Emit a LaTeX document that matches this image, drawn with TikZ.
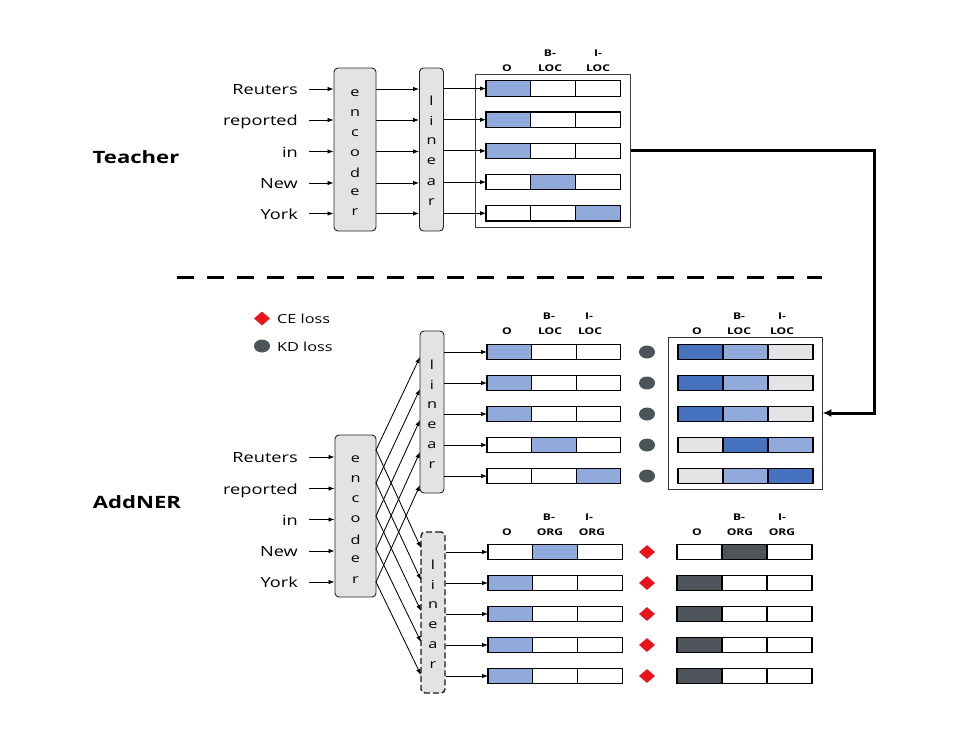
\documentclass[tikz,border=0pt]{standalone}
\usepackage{fontspec}
\setmainfont{Open Sans}[FakeStretch=1.3]
\usetikzlibrary{arrows.meta,shapes.geometric,patterns}
\definecolor{lblue}{RGB}{143,170,219}
\definecolor{dblue}{RGB}{70,114,192}
\definecolor{lgray}{RGB}{227,228,229}
\definecolor{dgray}{RGB}{78,84,90}
\definecolor{kdgray}{RGB}{74,84,89}
\definecolor{cered}{RGB}{232,20,26}
\definecolor{encfill}{RGB}{226,227,228}
\tikzset{
  word/.style={anchor=east,inner sep=0pt,font=\fontsize{14}{16}\selectfont},
  lbl/.style={anchor=center,inner sep=0pt,font=\fontsize{17}{20}\selectfont\bfseries},
  hdr/.style={inner sep=0pt,font=\fontsize{9.3}{10}\selectfont\bfseries},
  letter/.style={inner sep=0pt,font=\fontsize{12.5}{14}\selectfont},
  legtext/.style={anchor=west,inner sep=0pt,font=\fontsize{12.5}{14}\selectfont},
  encbox/.style={draw=black!85,fill=encfill,rounded corners=4pt,line width=0.9pt},
  cellbox/.style={draw=black,line width=1.2pt,minimum height=15.5pt,inner sep=0pt,outer sep=0pt,anchor=west},
  arr/.style={-{Latex[length=6pt,width=4.5pt]},line width=0.85pt},
  kd/.style={ellipse,fill=kdgray,minimum width=16pt,minimum height=13pt,inner sep=0pt},
  ce/.style={diamond,fill=cered,minimum width=16pt,minimum height=14pt,inner sep=0pt,aspect=1.2},
}
% \cellrow{prefix}{x0}{y}{w}{c1}{c2}{c3}
\newcommand{\cellrow}[7]{%
  \node[cellbox,minimum width=#4pt,fill=#5] (#1a) at (#2,#3) {};
  \node[cellbox,minimum width=#4pt,fill=#6] (#1b) at (#1a.east) {};
  \node[cellbox,minimum width=#4pt,fill=#7] (#1c) at (#1b.east) {};
}
\begin{document}
\begin{tikzpicture}[x=1pt,y=-1pt]
\useasboundingbox (0,0) rectangle (956,734);
\fill[white] (0,0) rectangle (956,734);

% ---------------- Teacher ----------------
\node[lbl] (teacher) at (136,157) {Teacher};

\node[encbox,minimum width=42pt,minimum height=163pt] (tenc) at (355,149.5) {};
\foreach \l [count=\i] in {e,n,c,o,d,e,r}
  \node[letter] (tencl\i) at (355,{93+19.9*(\i-1)}) {\l};
\node[encbox,minimum width=24pt,minimum height=163pt] (tlin) at (431.5,149.5) {};
\foreach \l [count=\i] in {l,i,n,e,a,r}
  \node[letter] (tlinl\i) at (431.5,{101+20.2*(\i-1)}) {\l};

\node[draw=black!75,line width=0.9pt,minimum width=155pt,minimum height=153pt,inner sep=0pt] (tbox) at (553,150.5) {};

\node[hdr] (th1) at (507,68.5) {O};
\node[hdr] (th2a) at (550,53.5) {B-};
\node[hdr] (th2b) at (550,68.5) {LOC};
\node[hdr] (th3a) at (598,53.5) {I-};
\node[hdr] (th3b) at (598,68.5) {LOC};

\cellrow{tr1}{486}{88.5}{44.7}{lblue}{white}{white}
\cellrow{tr2}{486}{119.7}{44.7}{lblue}{white}{white}
\cellrow{tr3}{486}{150.9}{44.7}{lblue}{white}{white}
\cellrow{tr4}{486}{182.1}{44.7}{white}{lblue}{white}
\cellrow{tr5}{486}{213.3}{44.7}{white}{white}{lblue}

\foreach \w/\y [count=\i] in {Reuters/89,reported/120,in/151.5,New/183,York/213.5}{
  \node[word,anchor=base east] (tw\i) at (298,\y+5.5) {\w};
  \coordinate (twa\i) at (309,\y);
  \draw[arr] (twa\i) -- (twa\i -| tenc.west);
  \draw[arr] (twa\i -| tenc.east) -- (twa\i -| tlin.west);
}
\foreach \i in {1,...,5}
  \draw[arr] (tr\i a.west -| tlin.east) -- (tr\i a.west);

% dashed separator
\coordinate (dashL) at (177,277);
\coordinate (dashR) at (822,277);
\draw[line width=3pt,dash pattern=on 17pt off 13pt] (dashL) -- (dashR);

% ---------------- AddNER ----------------
\node[lbl] (addner) at (137,502) {AddNER};

\node[ce] (legce) at (262,318.5) {};
\node[legtext] (legcet) at (277,319) {CE loss};
\node[kd] (legkd) at (262,346) {};
\node[legtext] (legkdt) at (277,346.5) {KD loss};

\node[encbox,minimum width=41pt,minimum height=162pt] (senc) at (355.5,516) {};
\foreach \l [count=\i] in {e,n,c,o,d,e,r}
  \node[letter] (sencl\i) at (355.5,{459+20.1*(\i-1)}) {\l};

\node[encbox,minimum width=24pt,minimum height=162pt] (slin) at (432,412) {};
\foreach \l [count=\i] in {l,i,n,e,a,r}
  \node[letter] (slinl\i) at (432,{365+20*(\i-1)}) {\l};

\node[encbox,dashed,dash pattern=on 6pt off 3pt,line width=1.4pt,draw=black!90,minimum width=24pt,minimum height=161pt] (dlin) at (433,612.5) {};
\foreach \l [count=\i] in {l,i,n,e,a,r}
  \node[letter] (dlinl\i) at (433,{565+20*(\i-1)}) {\l};

% words
\foreach \w/\y [count=\i] in {Reuters/457,reported/488.5,in/519.5,New/551,York/582}{
  \node[word,anchor=base east] (sw\i) at (298,\y+5.5) {\w};
  \coordinate (swa\i) at (309,\y);
  \draw[arr] (swa\i) -- (swa\i -| senc.west);
}

% crossing arrows
\foreach \s/\u/\d [count=\i] in {450/357/548,483/389/580,516/420/611,549/452/642,582/485/675}{
  \coordinate (src\i) at (376,\s);
  \coordinate (up\i) at (420,\u);
  \coordinate (dn\i) at (421,\d);
  \draw[arr] (src\i) -- (up\i);
  \draw[arr] (src\i) -- (dn\i);
}

% upper heads
\node[hdr] (uh1) at (507,331) {O};
\node[hdr] (uh2a) at (549,316) {B-};
\node[hdr] (uh2b) at (550,331) {LOC};
\node[hdr] (uh3a) at (589,316) {I-};
\node[hdr] (uh3b) at (590,331) {LOC};

\cellrow{ur1}{487}{352}{44.6}{lblue}{white}{white}
\cellrow{ur2}{487}{383}{44.6}{lblue}{white}{white}
\cellrow{ur3}{487}{414}{44.6}{lblue}{white}{white}
\cellrow{ur4}{487}{445}{44.6}{white}{lblue}{white}
\cellrow{ur5}{487}{476}{44.6}{white}{white}{lblue}
\foreach \i in {1,...,5}{
  \draw[arr] (ur\i a.west -| slin.east) -- (ur\i a.west);
  \node[kd] (kd\i) at (647,0 |- ur\i a.west) {};
}

% right box
\node[draw=black!80,line width=0.9pt,minimum width=154pt,minimum height=152pt,inner sep=0pt] (rbox) at (745,413) {};
\node[hdr] (rh1) at (697,331) {O};
\node[hdr] (rh2a) at (739,316) {B-};
\node[hdr] (rh2b) at (739,331) {LOC};
\node[hdr] (rh3a) at (782,316) {I-};
\node[hdr] (rh3b) at (782,331) {LOC};
\cellrow{rr1}{678}{352}{45}{dblue}{lblue}{lgray}
\cellrow{rr2}{678}{383}{45}{dblue}{lblue}{lgray}
\cellrow{rr3}{678}{414}{45}{dblue}{lblue}{lgray}
\cellrow{rr4}{678}{445}{45}{lgray}{dblue}{lblue}
\cellrow{rr5}{678}{476}{45}{lgray}{lblue}{dblue}

% teacher -> student arrow
\coordinate (corner1) at (874,150);
\draw[line width=3pt,-{Latex[length=9pt,width=8pt]}] (tbox.east |- corner1) -- (corner1) |- (rbox.east);

% lower heads
\node[hdr] (lh1) at (507,532) {O};
\node[hdr] (lh2a) at (549,517) {B-};
\node[hdr] (lh2b) at (550,532) {ORG};
\node[hdr] (lh3a) at (589,517) {I-};
\node[hdr] (lh3b) at (592,532) {ORG};

\cellrow{lr1}{488}{552}{44.7}{white}{lblue}{white}
\cellrow{lr2}{488}{583}{44.7}{lblue}{white}{white}
\cellrow{lr3}{488}{614}{44.7}{lblue}{white}{white}
\cellrow{lr4}{488}{645}{44.7}{lblue}{white}{white}
\cellrow{lr5}{488}{676}{44.7}{lblue}{white}{white}
\foreach \i in {1,...,5}{
  \draw[arr] (lr\i a.west -| dlin.east) -- (lr\i a.west);
  \node[ce] (ce\i) at (647,0 |- lr\i a.west) {};
}

\node[hdr] (gh1) at (697,532) {O};
\node[hdr] (gh2a) at (739,517) {B-};
\node[hdr] (gh2b) at (740,532) {ORG};
\node[hdr] (gh3a) at (782,517) {I-};
\node[hdr] (gh3b) at (782,532) {ORG};
\cellrow{gr1}{677}{552}{45}{white}{dgray}{white}
\cellrow{gr2}{677}{583}{45}{dgray}{white}{white}
\cellrow{gr3}{677}{614}{45}{dgray}{white}{white}
\cellrow{gr4}{677}{645}{45}{dgray}{white}{white}
\cellrow{gr5}{677}{676}{45}{dgray}{white}{white}
\end{tikzpicture}
\end{document}
